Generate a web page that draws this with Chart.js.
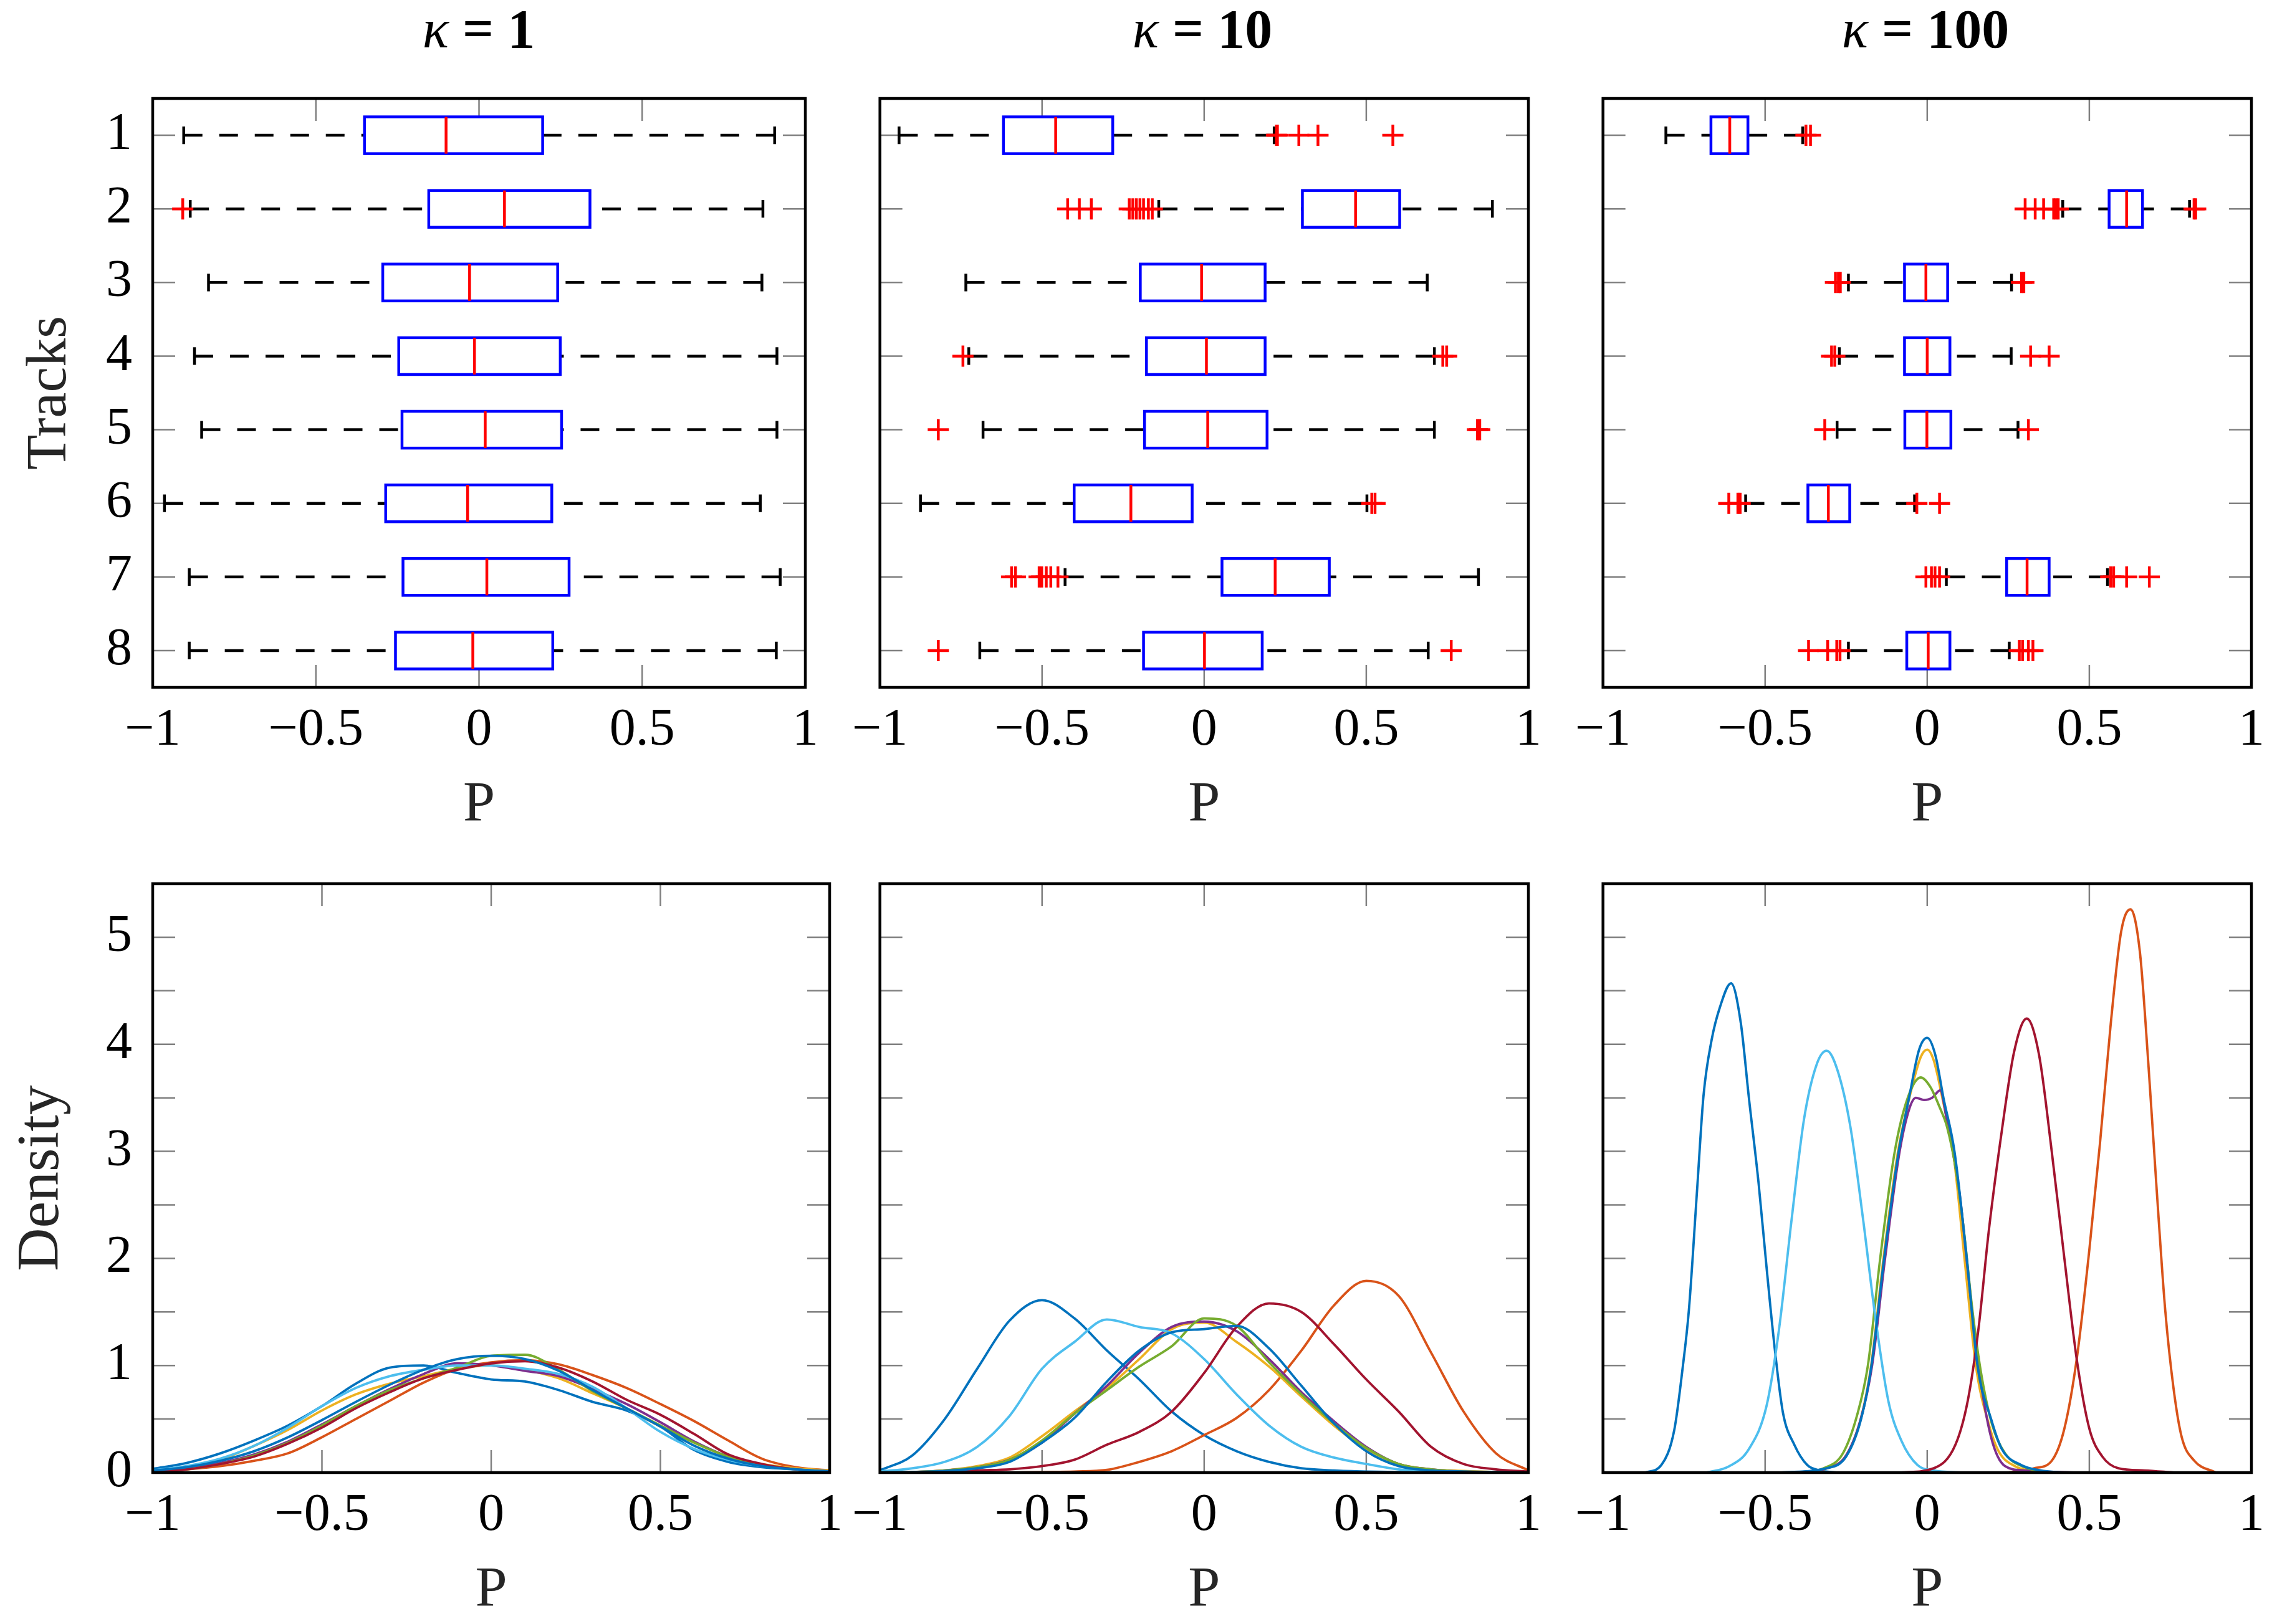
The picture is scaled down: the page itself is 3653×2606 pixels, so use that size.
<!DOCTYPE html>
<html>
<head>
<meta charset="utf-8">
<script src="https://cdn.jsdelivr.net/npm/chart.js@4.4.1/dist/chart.umd.min.js"></script>
<style>
  html, body { margin: 0; padding: 0; background: #fff; }
  body { width: 3653px; height: 2606px; position: relative; overflow: hidden;
         font-family: "Liberation Serif", "DejaVu Serif", serif; }
  canvas { position: absolute; }
  .ttl { position: absolute; top: 3px; width: 700px; text-align: center;
         font-size: 88px; line-height: 88px; color: #000; }
</style>
</head>
<body>
<div class="ttl" style="left:418px"><i>κ</i> <b>= 1</b></div>
<div class="ttl" style="left:1579px"><i>κ</i> <b>= 10</b></div>
<div class="ttl" style="left:2739px"><i>κ</i> <b>= 100</b></div>
<script>
// ---- axes ----
const tracks = [1, 2, 3, 4, 5, 6, 7, 8];
const pTicks = [-1, -0.5, 0, 0.5, 1];
const densTicks = [0, 0.5, 1, 1.5, 2, 2.5, 3, 3.5, 4, 4.5, 5, 5.5];
const trackColors = ['#0072BD', '#D95319', '#EDB120', '#7E2F8E', '#77AC30', '#4DBEEE', '#A2142F', '#0072BD'];

// ---- box plots, kappa = 1 ----
const k1Lo  = [-0.905, -0.885, -0.829, -0.872, -0.850, -0.964, -0.888, -0.888];
const k1Q1  = [-0.351, -0.154, -0.295, -0.246, -0.236, -0.286, -0.233, -0.256];
const k1Med = [-0.101, 0.078, -0.029, -0.014, 0.019, -0.035, 0.024, -0.019];
const k1Q3  = [0.195, 0.340, 0.241, 0.249, 0.253, 0.223, 0.276, 0.226];
const k1Hi  = [0.906, 0.870, 0.867, 0.913, 0.913, 0.862, 0.923, 0.911];
const k1Out = [[], [-0.908], [], [], [], [], [], []];

// ---- box plots, kappa = 10 ----
const k10Lo  = [-0.941, -0.140, -0.735, -0.726, -0.682, -0.875, -0.429, -0.692];
const k10Q1  = [-0.619, 0.303, -0.197, -0.178, -0.184, -0.401, 0.055, -0.187];
const k10Med = [-0.458, 0.467, -0.008, 0.007, 0.011, -0.226, 0.219, 0.001];
const k10Q3  = [-0.282, 0.603, 0.188, 0.188, 0.194, -0.037, 0.386, 0.179];
const k10Hi  = [0.216, 0.889, 0.688, 0.710, 0.710, 0.502, 0.846, 0.691];
const k10Out = [
  [0.223, 0.226, 0.292, 0.351, 0.582],
  [-0.421, -0.385, -0.348, -0.231, -0.220, -0.209, -0.198, -0.187, -0.172, -0.160],
  [],
  [-0.744, 0.736, 0.748],
  [-0.820, 0.843, 0.850],
  [0.517, 0.527],
  [-0.594, -0.582, -0.509, -0.501, -0.487, -0.473, -0.451],
  [-0.820, 0.762]
];

// ---- box plots, kappa = 100 ----
const k100Lo  = [-0.806, 0.418, -0.243, -0.271, -0.278, -0.560, 0.059, -0.243];
const k100Q1  = [-0.667, 0.561, -0.070, -0.070, -0.069, -0.368, 0.245, -0.063];
const k100Med = [-0.609, 0.615, -0.004, 0.000, -0.001, -0.305, 0.308, 0.003];
const k100Q3  = [-0.553, 0.664, 0.063, 0.070, 0.073, -0.239, 0.376, 0.070];
const k100Hi  = [-0.384, 0.809, 0.260, 0.259, 0.280, -0.039, 0.556, 0.253];
const k100Out = [
  [-0.374, -0.360],
  [0.302, 0.333, 0.359, 0.390, 0.397, 0.404, 0.823, 0.828],
  [-0.283, -0.274, -0.268, 0.291, 0.298],
  [-0.295, -0.285, 0.319, 0.376],
  [-0.316, 0.312],
  [-0.612, -0.584, -0.577, -0.032, 0.038],
  [-0.004, 0.013, 0.024, 0.038, 0.566, 0.575, 0.615, 0.685],
  [-0.366, -0.307, -0.279, -0.269, 0.284, 0.294, 0.312, 0.326]
];

// ---- densities on a common P grid (kappa = 1 and 10) ----
const pGrid = [-1, -0.9, -0.8, -0.7, -0.6, -0.5, -0.4, -0.3, -0.2, -0.1, 0,
               0.1, 0.2, 0.3, 0.4, 0.5, 0.6, 0.7, 0.8, 0.9, 1];

const k1Density = [
  [0.035, 0.09, 0.18, 0.30, 0.44, 0.62, 0.83, 0.98, 1.00, 0.93, 0.87, 0.85, 0.77, 0.66, 0.58, 0.43, 0.21, 0.10, 0.05, 0.03, 0.015],
  [0.01, 0.03, 0.06, 0.11, 0.18, 0.33, 0.50, 0.67, 0.84, 0.97, 1.03, 1.05, 1.01, 0.91, 0.79, 0.64, 0.48, 0.30, 0.13, 0.05, 0.02],
  [0.02, 0.05, 0.12, 0.25, 0.40, 0.58, 0.73, 0.83, 0.90, 0.97, 1.00, 0.96, 0.88, 0.74, 0.60, 0.43, 0.28, 0.15, 0.08, 0.04, 0.02],
  [0.015, 0.04, 0.09, 0.17, 0.29, 0.45, 0.62, 0.78, 0.92, 1.02, 1.00, 0.95, 0.90, 0.78, 0.64, 0.47, 0.29, 0.15, 0.07, 0.03, 0.01],
  [0.01, 0.03, 0.08, 0.16, 0.28, 0.44, 0.62, 0.77, 0.88, 0.98, 1.09, 1.10, 0.96, 0.76, 0.60, 0.44, 0.28, 0.15, 0.07, 0.03, 0.01],
  [0.02, 0.06, 0.13, 0.25, 0.42, 0.62, 0.79, 0.90, 0.96, 1.00, 1.00, 0.97, 0.92, 0.80, 0.60, 0.38, 0.22, 0.12, 0.06, 0.03, 0.01],
  [0.01, 0.03, 0.08, 0.15, 0.27, 0.42, 0.60, 0.75, 0.88, 0.96, 1.02, 1.04, 0.98, 0.85, 0.68, 0.54, 0.36, 0.17, 0.08, 0.03, 0.01],
  [0.02, 0.05, 0.11, 0.20, 0.33, 0.49, 0.66, 0.82, 0.96, 1.06, 1.09, 1.06, 0.95, 0.77, 0.60, 0.43, 0.25, 0.13, 0.06, 0.03, 0.01]
];

const k10Density = [
  [0.02, 0.16, 0.50, 0.97, 1.42, 1.61, 1.44, 1.14, 0.87, 0.57, 0.35, 0.20, 0.10, 0.04, 0.02, 0.01, 0.005, 0, 0, 0, 0],
  [null, null, null, null, 0, 0.005, 0.01, 0.025, 0.10, 0.20, 0.35, 0.51, 0.77, 1.14, 1.56, 1.79, 1.65, 1.12, 0.57, 0.18, 0.02],
  [0, 0.005, 0.02, 0.06, 0.14, 0.34, 0.57, 0.79, 1.06, 1.34, 1.40, 1.22, 0.99, 0.71, 0.44, 0.22, 0.08, 0.03, 0.015, 0.005, 0],
  [0, 0.005, 0.02, 0.05, 0.12, 0.28, 0.55, 0.81, 1.12, 1.36, 1.41, 1.32, 1.06, 0.75, 0.48, 0.24, 0.08, 0.03, 0.01, 0.005, 0],
  [0, 0.005, 0.02, 0.05, 0.12, 0.30, 0.55, 0.77, 0.99, 1.18, 1.44, 1.37, 1.03, 0.73, 0.46, 0.23, 0.08, 0.03, 0.01, 0.005, 0],
  [0.01, 0.04, 0.10, 0.24, 0.53, 0.97, 1.22, 1.43, 1.36, 1.30, 1.06, 0.73, 0.44, 0.24, 0.14, 0.08, 0.03, 0.015, 0.005, 0, 0],
  [null, null, 0.005, 0.02, 0.03, 0.06, 0.12, 0.26, 0.38, 0.57, 0.93, 1.36, 1.58, 1.50, 1.20, 0.87, 0.57, 0.24, 0.08, 0.03, 0.01],
  [0, 0.005, 0.015, 0.04, 0.10, 0.28, 0.51, 0.85, 1.14, 1.31, 1.34, 1.37, 1.16, 0.81, 0.46, 0.20, 0.06, 0.02, 0.01, 0.005, 0]
];

// ---- densities, kappa = 100, read as [P, density] points ----
const k100Track1 = [[-0.87, 0], [-0.82, 0.07], [-0.78, 0.4], [-0.755, 0.96], [-0.735, 1.52], [-0.71, 2.63], [-0.69, 3.52],
  [-0.665, 4.04], [-0.64, 4.34], [-0.605, 4.57], [-0.575, 4.2], [-0.55, 3.5], [-0.52, 2.7], [-0.495, 1.9], [-0.47, 1.15],
  [-0.445, 0.56], [-0.41, 0.26], [-0.37, 0.07], [-0.33, 0.02], [-0.28, 0]];
const k100Track2 = [[0.25, 0], [0.33, 0.04], [0.384, 0.11], [0.423, 0.41], [0.462, 1.08], [0.5, 2.08], [0.533, 3.08],
  [0.566, 4.19], [0.598, 5.05], [0.627, 5.26], [0.656, 4.86], [0.682, 3.82], [0.708, 2.63], [0.734, 1.52], [0.76, 0.78],
  [0.785, 0.33], [0.824, 0.11], [0.89, 0]];
const k100Track3 = [[-0.4, 0], [-0.31, 0.04], [-0.25, 0.16], [-0.205, 0.5], [-0.173, 1.0], [-0.135, 2.0], [-0.09, 3.0],
  [-0.055, 3.5], [-0.02, 3.88], [0, 3.95], [0.02, 3.85], [0.05, 3.45], [0.08, 3.0], [0.115, 2.0], [0.15, 1.0], [0.19, 0.45],
  [0.22, 0.2], [0.27, 0.06], [0.33, 0.01], [0.38, 0]];
const k100Track4 = [[-0.42, 0], [-0.31, 0.04], [-0.25, 0.16], [-0.205, 0.5], [-0.17, 1.0], [-0.13, 2.0], [-0.085, 3.0],
  [-0.055, 3.4], [-0.035, 3.5], [-0.01, 3.48], [0.015, 3.5], [0.04, 3.57], [0.06, 3.3], [0.1, 2.6], [0.125, 1.89],
  [0.158, 1.0], [0.197, 0.33], [0.24, 0.06], [0.3, 0.02], [0.46, 0]];
const k100Track5 = [[-0.4, 0], [-0.32, 0.04], [-0.26, 0.18], [-0.215, 0.55], [-0.183, 1.0], [-0.145, 2.0], [-0.1, 3.0],
  [-0.06, 3.5], [-0.02, 3.69], [0.01, 3.6], [0.04, 3.4], [0.061, 3.23], [0.09, 2.8], [0.113, 2.26], [0.14, 1.5],
  [0.165, 0.95], [0.2, 0.45], [0.24, 0.18], [0.3, 0.05], [0.37, 0]];
const k100Track6 = [[-0.68, 0], [-0.61, 0.06], [-0.55, 0.22], [-0.495, 0.63], [-0.457, 1.34], [-0.418, 2.37], [-0.38, 3.3],
  [-0.34, 3.82], [-0.31, 3.94], [-0.276, 3.75], [-0.237, 3.23], [-0.198, 2.37], [-0.16, 1.45], [-0.12, 0.67], [-0.08, 0.3],
  [-0.03, 0.07], [0.02, 0.02], [0.11, 0]];
const k100Track7 = [[-0.08, 0], [0.02, 0.04], [0.087, 0.26], [0.125, 0.67], [0.158, 1.34], [0.19, 2.26], [0.23, 3.19],
  [0.268, 3.93], [0.307, 4.24], [0.345, 3.9], [0.384, 3.0], [0.423, 2.0], [0.462, 1.04], [0.5, 0.41], [0.54, 0.15],
  [0.59, 0.04], [0.67, 0.02], [0.76, 0]];
const k100Track8 = [[-0.45, 0], [-0.31, 0.04], [-0.25, 0.15], [-0.204, 0.5], [-0.172, 1.0], [-0.133, 2.0], [-0.088, 3.0],
  [-0.056, 3.5], [-0.025, 3.95], [0, 4.06], [0.025, 3.9], [0.05, 3.5], [0.084, 3.0], [0.122, 2.0], [0.155, 1.0],
  [0.197, 0.5], [0.23, 0.22], [0.29, 0.07], [0.35, 0.02], [0.42, 0]];
const k100Density = [k100Track1, k100Track2, k100Track3, k100Track4, k100Track5, k100Track6, k100Track7, k100Track8];

// ---- drawing ----
const FONT = "'Liberation Serif', 'DejaVu Serif', serif";
Chart.defaults.font.family = FONT;
Chart.defaults.color = '#000';

const fmtP = v => v === 0 ? '0' : (v < 0 ? '\u2212' : '') + Math.abs(v);

// frame around the plot area and pgfplots-like inward tick marks
const framePlugin = {
  id: 'frame',
  beforeDatasetsDraw(chart) {
    const {ctx, chartArea: a, scales: {x, y}} = chart;
    const tl = 36;
    ctx.save();
    ctx.strokeStyle = '#808080';
    ctx.lineWidth = 2.5;
    ctx.beginPath();
    x.ticks.forEach(t => {
      const px = x.getPixelForValue(t.value);
      ctx.moveTo(px, a.bottom); ctx.lineTo(px, a.bottom - tl);
      ctx.moveTo(px, a.top); ctx.lineTo(px, a.top + tl);
    });
    y.ticks.forEach(t => {
      const py = y.getPixelForValue(t.value);
      ctx.moveTo(a.left, py); ctx.lineTo(a.left + tl, py);
      ctx.moveTo(a.right, py); ctx.lineTo(a.right - tl, py);
    });
    ctx.stroke();
    ctx.restore();
  },
  afterDraw(chart) {
    const {ctx, chartArea: a} = chart;
    ctx.save();
    ctx.strokeStyle = '#000';
    ctx.lineWidth = 4.5;
    ctx.strokeRect(a.left, a.top, a.right - a.left, a.bottom - a.top);
    ctx.restore();
  }
};

// boxes, medians and dashed whiskers, placed with the chart's scales
function boxPlugin(lo, q1, med, q3, hi) {
  return {
    id: 'boxes',
    beforeDatasetsDraw(chart) {
      const {ctx, scales: {x, y}} = chart;
      ctx.save();
      ctx.lineWidth = 4.5;
      tracks.forEach((t, i) => {
        const yc = y.getPixelForValue(t);
        const hb = Math.abs(y.getPixelForValue(t + 0.25) - yc);
        const hc = Math.abs(y.getPixelForValue(t + 0.12) - yc);
        const xl = x.getPixelForValue(lo[i]), x1 = x.getPixelForValue(q1[i]);
        const xm = x.getPixelForValue(med[i]), x3 = x.getPixelForValue(q3[i]);
        const xh = x.getPixelForValue(hi[i]);
        ctx.strokeStyle = '#000';
        ctx.setLineDash([30, 27]);
        ctx.beginPath();
        ctx.moveTo(xl, yc); ctx.lineTo(x1, yc);
        ctx.moveTo(xh, yc); ctx.lineTo(x3, yc);
        ctx.stroke();
        ctx.setLineDash([]);
        ctx.beginPath();
        ctx.moveTo(xl, yc - hc); ctx.lineTo(xl, yc + hc);
        ctx.moveTo(xh, yc - hc); ctx.lineTo(xh, yc + hc);
        ctx.stroke();
        ctx.fillStyle = '#fff';
        ctx.fillRect(x1, yc - hb, x3 - x1, 2 * hb);
        ctx.strokeStyle = '#0000ff';
        ctx.strokeRect(x1, yc - hb, x3 - x1, 2 * hb);
        ctx.strokeStyle = '#ff0000';
        ctx.beginPath();
        ctx.moveTo(xm, yc - hb); ctx.lineTo(xm, yc + hb);
        ctx.stroke();
      });
      ctx.restore();
    }
  };
}

function outlierDataset(out) {
  const pts = [];
  out.forEach((row, i) => row.forEach(v => pts.push({x: v, y: tracks[i]})));
  return {
    data: pts, pointStyle: 'cross', pointRadius: 17, pointBorderWidth: 4.5,
    borderColor: '#ff0000', backgroundColor: '#ff0000', pointHoverRadius: 17
  };
}

function curve(points, i) {
  return {
    data: points, showLine: true, pointRadius: 0, borderWidth: 3.8,
    borderColor: trackColors[i], backgroundColor: trackColors[i],
    cubicInterpolationMode: 'monotone', fill: false, order: 8 - i
  };
}
const gridCurves = dens => dens.map((row, i) =>
  curve(pGrid.map((x, j) => ({x: x, y: row[j]})).filter(d => d.y !== null), i));
const pairCurves = dens => dens.map((row, i) => curve(row.map(p => ({x: p[0], y: p[1]})), i));

function makePanel(p) {
  const padL = p.showY ? p.l : 60, padT = 100, padR = 110, padB = 280;
  const w = p.r - p.l + padL + padR, h = p.b - p.t + padT + padB;
  const cv = document.createElement('canvas');
  cv.width = w; cv.height = h;
  cv.style.left = (p.l - padL) + 'px';
  cv.style.top = (p.t - padT) + 'px';
  cv.style.width = w + 'px';
  cv.style.height = h + 'px';
  document.body.appendChild(cv);

  const isBox = p.kind === 'box';
  const yTicks = isBox ? tracks : densTicks;
  new Chart(cv, {
    type: 'scatter',
    data: {datasets: p.datasets},
    options: {
      responsive: false, animation: false, devicePixelRatio: 1, events: [],
      layout: {padding: {left: 0, top: padT, right: padR, bottom: 0}},
      plugins: {legend: {display: false}, tooltip: {enabled: false}},
      scales: {
        x: {
          type: 'linear', min: -1, max: 1,
          afterBuildTicks: s => { s.ticks = pTicks.map(v => ({value: v})); },
          ticks: {padding: 20, font: {size: 84}, color: '#000', maxRotation: 0, autoSkip: false, callback: fmtP},
          grid: {display: false, drawTicks: false},
          border: {display: false},
          title: {display: true, text: 'P', font: {size: 92}, color: '#262626', padding: {top: 0, bottom: 35}},
          afterFit: s => { s.height = padB; }
        },
        y: {
          type: 'linear',
          min: isBox ? 0.5 : 0, max: isBox ? 8.5 : 5.5, reverse: isBox,
          afterBuildTicks: s => { s.ticks = yTicks.map(v => ({value: v})); },
          ticks: {
            display: p.showY, padding: 33, font: {size: 84}, color: '#000', autoSkip: false,
            callback: v => (isBox || (Number.isInteger(v) && v <= 5)) ? String(v) : ''
          },
          grid: {display: false, drawTicks: false},
          border: {display: false},
          title: {
            display: p.showY, text: isBox ? 'Tracks' : 'Density', font: {size: isBox ? 92 : 96}, color: '#262626',
            padding: {top: isBox ? 26 : 10, bottom: 0}
          },
          afterFit: s => { s.width = padL; }
        }
      }
    },
    plugins: [framePlugin].concat(p.plugins || [])
  });
}

// top row: box plots
makePanel({l: 245, r: 1292, t: 158, b: 1103, kind: 'box', showY: true,
  datasets: [outlierDataset(k1Out)], plugins: [boxPlugin(k1Lo, k1Q1, k1Med, k1Q3, k1Hi)]});
makePanel({l: 1407, r: 2452, t: 158, b: 1103, kind: 'box', showY: false,
  datasets: [outlierDataset(k10Out)], plugins: [boxPlugin(k10Lo, k10Q1, k10Med, k10Q3, k10Hi)]});
makePanel({l: 2567, r: 3612, t: 158, b: 1103, kind: 'box', showY: false,
  datasets: [outlierDataset(k100Out)], plugins: [boxPlugin(k100Lo, k100Q1, k100Med, k100Q3, k100Hi)]});

// bottom row: densities
makePanel({l: 245, r: 1331, t: 1418, b: 2363, kind: 'density', showY: true, datasets: gridCurves(k1Density)});
makePanel({l: 1407, r: 2452, t: 1418, b: 2363, kind: 'density', showY: false, datasets: gridCurves(k10Density)});
makePanel({l: 2567, r: 3612, t: 1418, b: 2363, kind: 'density', showY: false, datasets: pairCurves(k100Density)});
</script>
</body>
</html>
